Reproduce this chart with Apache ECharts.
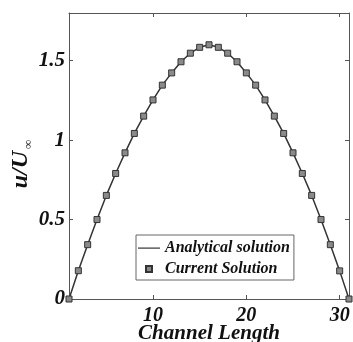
<!DOCTYPE html>
<html>
<head>
<meta charset="utf-8">
<script src="https://cdn.jsdelivr.net/npm/echarts@6/dist/echarts.min.js"></script>
<style>html,body{margin:0;padding:0;background:#fff}#c{width:353px;height:342px}</style>
</head>
<body>
<div id="c"></div>
<script>
var positions = [1,2,3,4,5,6,7,8,9,10,11,12,13,14,15,16,17,18,19,20,21,22,23,24,25,26,27,28,29,30,31];
var analytical = [0,0.178,0.342,0.50,0.652,0.79,0.92,1.042,1.151,1.253,1.346,1.423,1.493,1.547,1.584,1.60,1.584,1.547,1.493,1.423,1.346,1.253,1.151,1.042,0.92,0.79,0.652,0.50,0.342,0.177,0];
var current = [0,0.178,0.342,0.50,0.652,0.79,0.92,1.042,1.151,1.253,1.346,1.423,1.493,1.547,1.584,1.60,1.584,1.547,1.493,1.423,1.346,1.253,1.151,1.042,0.92,0.79,0.652,0.50,0.342,0.177,0];
var xTicks = [10,20,30];
var yTicks = [0,0.5,1,1.5];

var FONT = '"Liberation Serif","Times New Roman",serif';
var chart = echarts.init(document.getElementById('c'), null, {renderer:'canvas'});
var axisLine = {show:true, onZero:false, lineStyle:{color:'#555', width:1}};
var option = {
  animation:false,
  backgroundColor:'#fff',
  grid:{left:69, right:4, top:13, bottom:43, containLabel:false, outerBoundsMode:'none'},
  legend:{
    orient:'vertical', left:136, top:235,
    backgroundColor:'#fff', borderColor:'#666', borderWidth:1,
    padding:[5,4,3,1], itemGap:5, itemWidth:22, itemHeight:7,
    textStyle:{fontFamily:FONT, fontStyle:'italic', fontWeight:'bold', fontSize:16, color:'#111'},
    data:[
      {name:'Analytical solution', icon:'path://M0,0 M22,7 M0,3 L22,3 L22,4.2 L0,4.2 Z', itemStyle:{color:'#333', borderWidth:0}},
      {name:'Current Solution', icon:'path://M8,0 L14,0 L14,6 L8,6 Z M0,3 M22,3'}
    ]
  },
  xAxis:[{
    type:'value', min:1, max:31, position:'bottom',
    name:'Channel Length', nameLocation:'middle', nameGap:24, nameMoveOverlap:false,
    nameTextStyle:{fontFamily:FONT, fontStyle:'italic', fontWeight:'bold', fontSize:21, color:'#111'},
    axisLine:axisLine,
    axisTick:{show:true, inside:true, length:4, lineStyle:{color:'#555'}, customValues:xTicks},
    axisLabel:{fontFamily:FONT, fontStyle:'italic', fontWeight:'bold', fontSize:20, color:'#111', margin:7, customValues:xTicks},
    splitLine:{show:false}
  },{
    type:'value', min:1, max:31, position:'top',
    axisLine:axisLine,
    axisTick:{show:true, inside:true, length:4, lineStyle:{color:'#555'}, customValues:xTicks},
    axisLabel:{show:false}, splitLine:{show:false}
  }],
  yAxis:[{
    type:'value', min:0, max:1.8, interval:0.5, position:'left',
    name:'{a|u/U}{b|∞}', nameLocation:'middle', nameGap:34, nameRotate:90, nameMoveOverlap:false,
    nameTextStyle:{rich:{
      a:{fontFamily:FONT, fontStyle:'italic', fontWeight:'bold', fontSize:24, color:'#111', lineHeight:28, verticalAlign:'middle'},
      b:{fontFamily:FONT, fontSize:13, color:'#333', lineHeight:28, verticalAlign:'bottom', padding:[19,16,0,2]}
    }},
    axisLine:axisLine,
    axisTick:{show:true, inside:true, length:4, lineStyle:{color:'#555'}, customValues:yTicks},
    axisLabel:{fontFamily:FONT, fontStyle:'italic', fontWeight:'bold', fontSize:21, color:'#111', margin:4, customValues:yTicks},
    splitLine:{show:false}
  },{
    type:'value', min:0, max:1.8, interval:0.5, position:'right',
    axisLine:axisLine,
    axisTick:{show:true, inside:true, length:4, lineStyle:{color:'#555'}, customValues:yTicks},
    axisLabel:{show:false}, splitLine:{show:false}
  }],
  series:[{
    name:'Analytical solution', type:'line', xAxisIndex:0, yAxisIndex:0,
    data:positions.map(function(x,i){return [x, analytical[i]];}),
    symbol:'none', lineStyle:{color:'#333', width:1.5}, itemStyle:{color:'#333'}, z:2
  },{
    name:'Current Solution', type:'scatter', xAxisIndex:0, yAxisIndex:0,
    data:positions.map(function(x,i){return [x, current[i]];}),
    symbol:'rect', symbolSize:6,
    itemStyle:{color:'#8a8a8a', borderColor:'#333', borderWidth:1, opacity:1}, z:3
  }]
};
chart.setOption(option);
</script>
</body>
</html>
